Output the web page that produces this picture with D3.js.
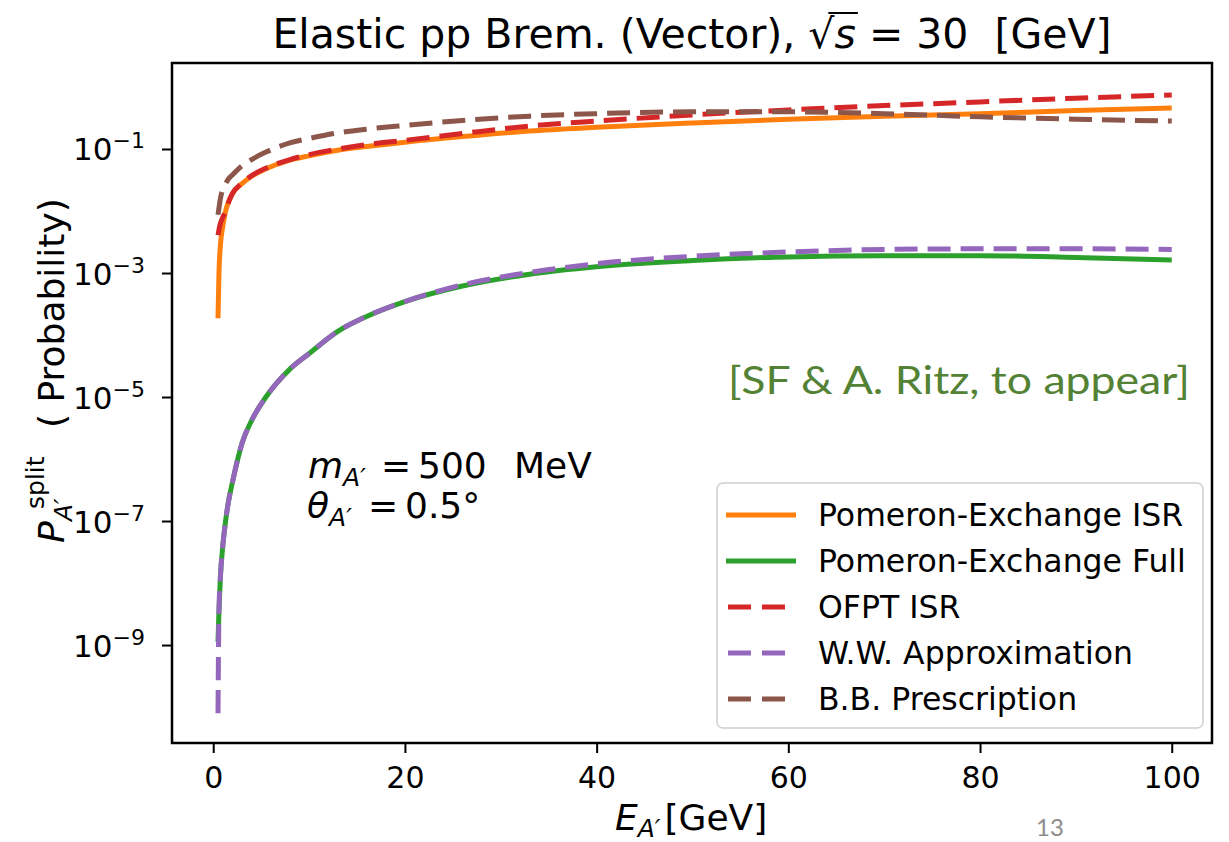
<!DOCTYPE html>
<html>
<head>
<meta charset="utf-8">
<script src="https://cdn.jsdelivr.net/npm/d3@7"></script>
<style>
  body { margin: 0; background: #fff; }
  text { font-family: "DejaVu Sans", sans-serif; }
</style>
</head>
<body>
<svg id="chart"></svg>
<script>
// energy grid (GeV) and log10 of the splitting probability for each curve
const energy        = [0.5, 0.6, 0.75, 1, 1.25, 1.6, 2, 3, 4, 5.5, 8, 10, 13, 16, 20, 26, 33, 40, 50, 60, 70, 80, 90, 100];
const pomeronISR    = [-3.73, -3.0, -2.55, -2.25, -2.03, -1.85, -1.72, -1.56, -1.44, -1.32, -1.18, -1.11, -1.02, -0.96, -0.89, -0.80, -0.71, -0.65, -0.58, -0.52, -0.47, -0.43, -0.38, -0.34];
const pomeronFull   = [-8.95, -8.45, -7.9, -7.4, -7.05, -6.68, -6.38, -5.75, -5.38, -5.00, -4.55, -4.30, -3.94, -3.70, -3.46, -3.21, -3.02, -2.90, -2.80, -2.74, -2.72, -2.72, -2.75, -2.79];
const ofptISR       = [-2.39, -2.30, -2.20, -2.10, -2.03, -1.86, -1.72, -1.55, -1.43, -1.31, -1.17, -1.09, -1.00, -0.93, -0.86, -0.75, -0.63, -0.55, -0.45, -0.37, -0.30, -0.24, -0.18, -0.13];
const wwApprox      = [-10.1, -8.45, -7.9, -7.4, -7.05, -6.68, -6.38, -5.75, -5.38, -5.00, -4.55, -4.30, -3.94, -3.70, -3.46, -3.19, -2.99, -2.85, -2.73, -2.66, -2.62, -2.61, -2.61, -2.62];
const bbPrescription = [-2.06, -1.95, -1.80, -1.65, -1.57, -1.48, -1.42, -1.27, -1.17, -1.05, -0.90, -0.83, -0.74, -0.68, -0.62, -0.54, -0.47, -0.43, -0.40, -0.40, -0.43, -0.48, -0.52, -0.55];

const seriesNames  = ['Pomeron-Exchange ISR', 'Pomeron-Exchange Full', 'OFPT ISR', 'W.W. Approximation', 'B.B. Prescription'];
const seriesValues = [pomeronISR, pomeronFull, ofptISR, wwApprox, bbPrescription];
const seriesColors = ['#ff7f0e', '#2ca02c', '#d62728', '#9467bd', '#8c564b'];
const seriesDashed = [false, false, true, true, true];

const xTicks = [0, 20, 40, 60, 80, 100];
const yTicks = [1e-1, 1e-3, 1e-5, 1e-7, 1e-9];

const width = 1229, height = 842;
const margin = {top: 63, right: 17, bottom: 99, left: 172};
const innerW = width - margin.left - margin.right;
const innerH = height - margin.top - margin.bottom;

const svg = d3.select('#chart').attr('width', width).attr('height', height);

const xscale = d3.scaleLinear().domain([-4.3, 104.2]).range([0, innerW]);
const yscale = d3.scaleLog().domain([Math.pow(10, -10.58), Math.pow(10, 0.387)]).range([innerH, 0]);

const chart = svg.append('g')
    .attr('transform', `translate(${margin.left}, ${margin.top})`);

chart.append('clipPath').attr('id', 'clip')
  .append('rect').attr('width', innerW).attr('height', innerH);

// curves
const data = seriesNames.map((name, i) => ({
    name: name,
    color: seriesColors[i],
    dashed: seriesDashed[i],
    points: energy.map((e, j) => ({e: e, p: Math.pow(10, seriesValues[i][j])}))
}));

const line = d3.line()
    .x(d => xscale(d.e))
    .y(d => yscale(d.p))
    .curve(d3.curveMonotoneX);

chart.append('g').attr('clip-path', 'url(#clip)')
  .selectAll('path')
  .data(data)
  .join('path')
    .attr('d', d => line(d.points))
    .attr('fill', 'none')
    .attr('stroke', d => d.color)
    .attr('stroke-width', 5)
    .attr('stroke-dasharray', d => d.dashed ? '23,10' : null);

// axes
const xaxis = d3.axisBottom(xscale).tickValues(xTicks).tickSize(10).tickPadding(14).tickFormat(d3.format('d'));
const yaxis = d3.axisLeft(yscale).tickValues(yTicks).tickSize(10).tickPadding(17).tickFormat('');

const xg = chart.append('g').attr('transform', `translate(0, ${innerH})`).call(xaxis);
xg.select('.domain').remove();
xg.selectAll('line').attr('stroke', '#000').attr('stroke-width', 2);
xg.selectAll('text').attr('font-size', 30).attr('fill', '#000');

const yg = chart.append('g').call(yaxis);
yg.select('.domain').remove();
yg.selectAll('line').attr('stroke', '#000').attr('stroke-width', 2);
yg.selectAll('.tick text')
    .attr('fill', '#000')
    .attr('dy', null)
    .attr('y', 11)
    .each(function(d) {
        const t = d3.select(this);
        const exp = Math.round(Math.log10(d));
        t.append('tspan').attr('font-size', 31).text('10');
        t.append('tspan').attr('font-size', 22).attr('dy', -12).text('\u2212' + Math.abs(exp));
    });

// frame
chart.append('rect')
    .attr('width', innerW).attr('height', innerH)
    .attr('fill', 'none').attr('stroke', '#000').attr('stroke-width', 2.5);

// title
const title = svg.append('text')
    .attr('x', margin.left + innerW / 2)
    .attr('y', 48)
    .attr('text-anchor', 'middle')
    .attr('font-size', 41)
    .style('white-space', 'pre');
title.append('tspan').text('Elastic pp Brem. (Vector), \u221A');
title.append('tspan').attr('font-style', 'italic').text('s');
title.append('tspan').text(' = 30  [GeV]');
{
    const node = title.node();
    const idx = 'Elastic pp Brem. (Vector), \u221A'.length;
    const s1 = node.getEndPositionOfChar(idx);
    const r0 = node.getStartPositionOfChar(idx - 1);
    svg.append('line')
        .attr('x1', r0.x + 20).attr('x2', s1.x + 2)
        .attr('y1', 13).attr('y2', 13)
        .attr('stroke', '#000').attr('stroke-width', 2);
}

// x label
const xlab = svg.append('text').attr('x', 615).attr('y', 830).style('white-space', 'pre');
xlab.append('tspan').attr('font-size', 36).attr('font-style', 'italic').text('E');
xlab.append('tspan').attr('font-size', 25).attr('font-style', 'italic').attr('dy', 7).text('A\u2032');
xlab.append('tspan').attr('font-size', 36).attr('dy', -7).attr('dx', 4).text('[GeV]');

// y label (rotated)
const ylab = svg.append('g').attr('transform', 'translate(64, 543) rotate(-90)');
ylab.append('text').attr('x', 0).attr('y', 0).attr('font-size', 36).attr('font-style', 'italic').text('P');
ylab.append('text').attr('x', 22).attr('y', 8).attr('font-size', 25).attr('font-style', 'italic').text('A\u2032');
ylab.append('text').attr('x', 34).attr('y', -20).attr('font-size', 25).text('split');
ylab.append('text').attr('x', 115).attr('y', 0).attr('font-size', 36).text('( Probability)');

// parameter annotation
const ann1 = svg.append('text').attr('y', 478).attr('font-size', 36).style('white-space', 'pre');
ann1.append('tspan').attr('x', 308).attr('font-style', 'italic').text('m');
ann1.append('tspan').attr('font-size', 25).attr('font-style', 'italic').attr('dy', 8).text('A\u2032');
ann1.append('tspan').attr('x', 381).attr('dy', -8).text('=');
ann1.append('tspan').attr('x', 418).text('500');
ann1.append('tspan').attr('x', 514).text('MeV');

const ann2 = svg.append('text').attr('y', 518).attr('font-size', 36).style('white-space', 'pre');
ann2.append('tspan').attr('x', 307).attr('font-style', 'italic').text('\u03B8');
ann2.append('tspan').attr('font-size', 25).attr('font-style', 'italic').attr('dy', 8).text('A\u2032');
ann2.append('tspan').attr('x', 368).attr('dy', -8).text('=');
ann2.append('tspan').attr('x', 405).text('0.5\u00B0');

// citation note
svg.append('text')
    .attr('x', 728).attr('y', 394)
    .style('font-family', 'Lato, "Open Sans", sans-serif')
    .attr('font-size', 38)
    .attr('fill', '#548235')
    .attr('textLength', 462)
    .attr('lengthAdjust', 'spacingAndGlyphs')
    .text('[SF & A. Ritz, to appear]');

// slide number
svg.append('text')
    .attr('x', 1036).attr('y', 836)
    .style('font-family', 'Lato, "Open Sans", sans-serif')
    .attr('font-size', 24)
    .attr('fill', '#8c8c8c')
    .text('13');

// legend
const legend = svg.append('g').attr('transform', 'translate(717, 483)');
legend.append('rect')
    .attr('width', 486).attr('height', 245)
    .attr('rx', 6).attr('ry', 6)
    .attr('fill', '#fff').attr('fill-opacity', 0.8)
    .attr('stroke', '#d0d0d0').attr('stroke-width', 1.5);

const items = legend.selectAll('g.item')
    .data(data)
    .join('g')
    .attr('class', 'item')
    .attr('transform', (d, i) => `translate(0, ${32 + i * 46})`);

items.append('line')
    .attr('x1', d => d.dashed ? 11 : 9).attr('x2', 79)
    .attr('stroke', d => d.color)
    .attr('stroke-width', 5)
    .attr('stroke-dasharray', d => d.dashed ? '23,11,23,100' : null);

items.append('text')
    .attr('x', 101).attr('y', 11)
    .attr('font-size', 31.5)
    .text(d => d.name);
</script>
</body>
</html>
